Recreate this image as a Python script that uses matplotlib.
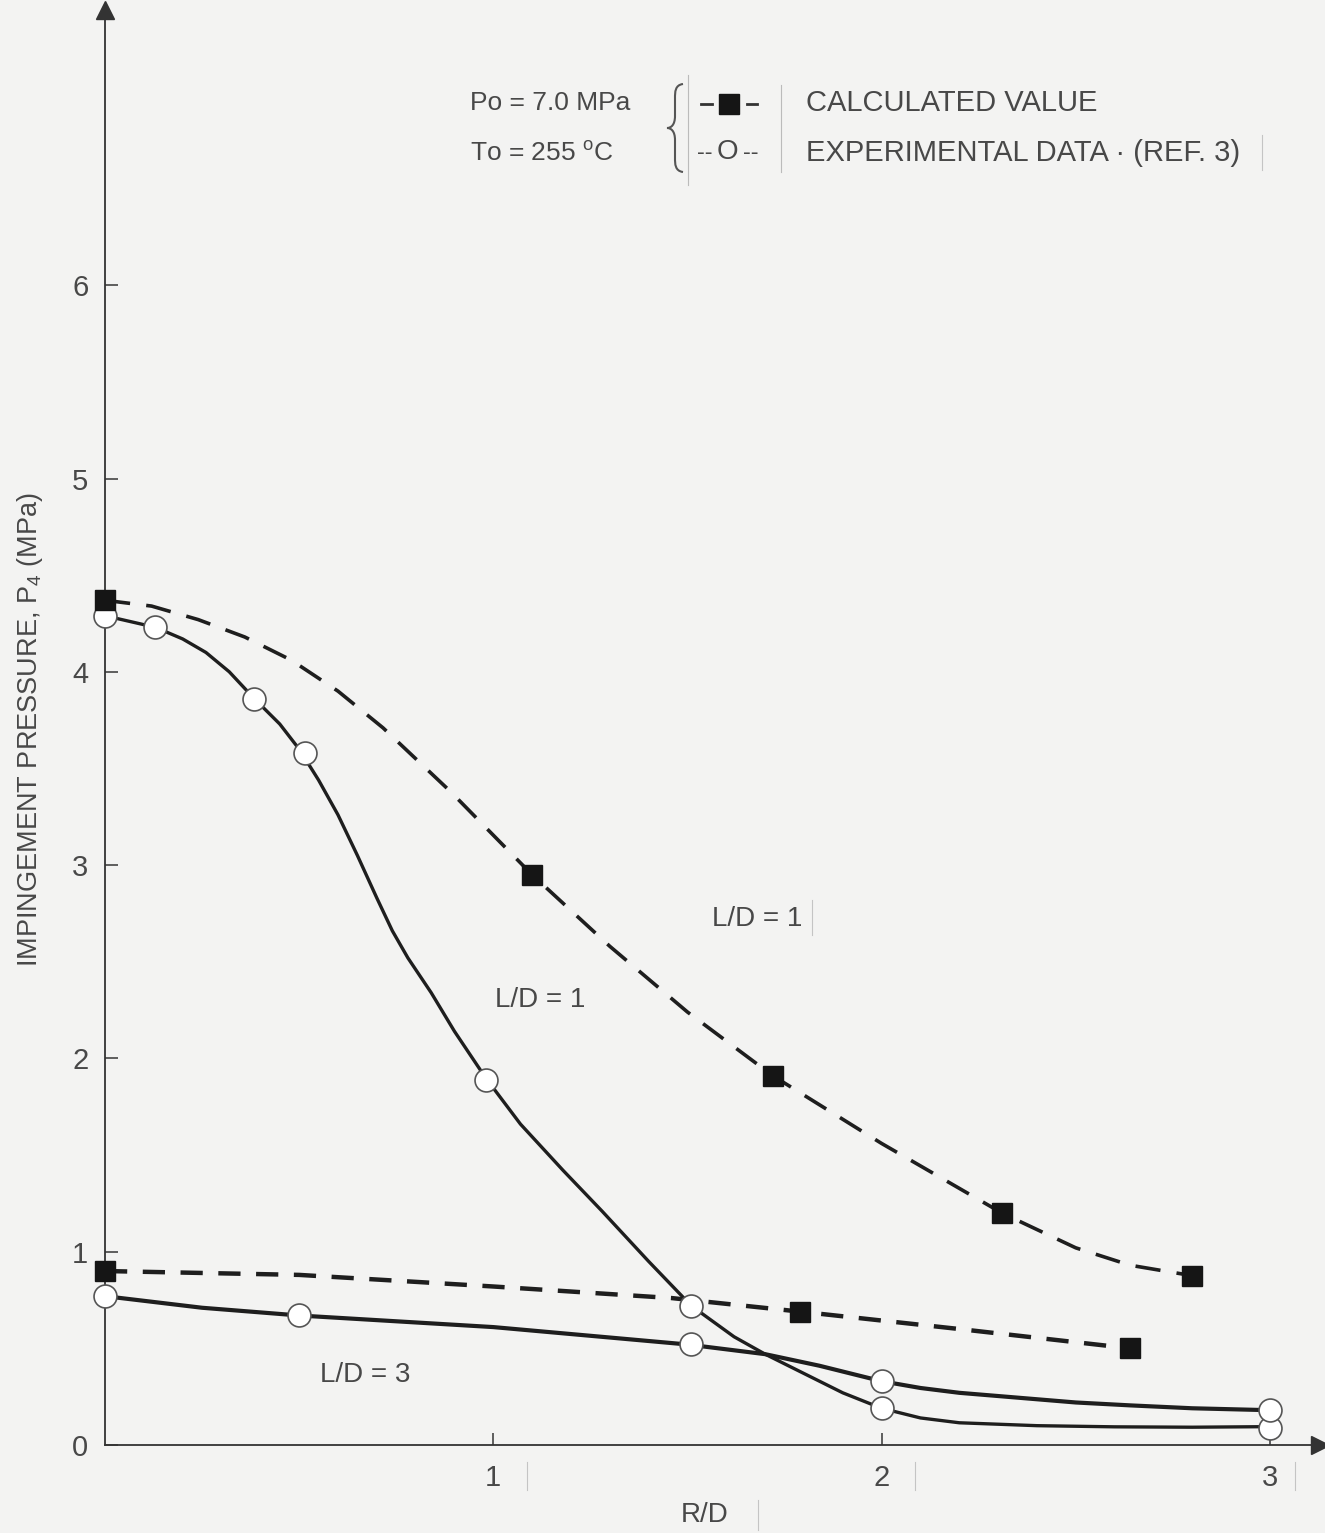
import numpy as np
import matplotlib.pyplot as plt
from matplotlib.lines import Line2D
from matplotlib.path import Path
from matplotlib.patches import PathPatch

plt.rcParams['font.family'] = ['Liberation Sans', 'DejaVu Sans']
plt.rcParams['mathtext.fontset'] = 'custom'
plt.rcParams['mathtext.rm'] = 'Liberation Sans'

W, H = 1325, 1533
INK = '#1e1e1e'
TXT = '#484848'
PAPER = '#f3f3f2'

# markers
exp1_x = [0.0, 0.13, 0.385, 0.515, 0.98, 1.51, 2.0, 3.0]
exp1_y = [4.29, 4.23, 3.86, 3.58, 1.89, 0.72, 0.19, 0.09]
exp3_x = [0.0, 0.5, 1.51, 2.0, 3.0]
exp3_y = [0.77, 0.67, 0.52, 0.33, 0.18]
calc1_x = [0.0, 1.1, 1.72, 2.31, 2.8]
calc1_y = [4.37, 2.95, 1.91, 1.20, 0.876]
calc3_x = [0.0, 1.79, 2.64]
calc3_y = [0.90, 0.69, 0.50]

# traced curves
exp1_cx = [0.0, 0.13, 0.20, 0.26, 0.32, 0.385, 0.45, 0.50, 0.55, 0.60, 0.65, 0.70,
           0.74, 0.78, 0.84, 0.90, 0.98, 1.07, 1.18, 1.28, 1.40, 1.51, 1.62, 1.70,
           1.80, 1.90, 2.0, 2.10, 2.20, 2.40, 2.60, 2.80, 3.0]
exp1_cy = [4.29, 4.23, 4.17, 4.10, 4.00, 3.86, 3.73, 3.60, 3.44, 3.26, 3.05, 2.83,
           2.66, 2.52, 2.34, 2.14, 1.90, 1.66, 1.42, 1.21, 0.95, 0.72, 0.56, 0.47,
           0.37, 0.27, 0.19, 0.14, 0.115, 0.10, 0.094, 0.092, 0.095]
exp3_cx = [0.0, 0.25, 0.5, 1.0, 1.5, 1.7, 1.84, 2.0, 2.1, 2.2, 2.32, 2.5, 2.64, 2.8, 3.0]
exp3_cy = [0.77, 0.71, 0.67, 0.61, 0.52, 0.47, 0.41, 0.33, 0.295, 0.27, 0.25, 0.22,
           0.205, 0.19, 0.18]
calc1_cx = [0.0, 0.12, 0.24, 0.36, 0.48, 0.60, 0.716, 0.89, 1.1, 1.3, 1.5, 1.72,
            2.0, 2.31, 2.5, 2.64, 2.8]
calc1_cy = [4.37, 4.34, 4.27, 4.18, 4.06, 3.90, 3.71, 3.38, 2.95, 2.58, 2.24, 1.91,
            1.56, 1.20, 1.02, 0.93, 0.876]
calc3_cx = [0.0, 0.5, 1.0, 1.46, 1.79, 2.2, 2.64]
calc3_cy = [0.90, 0.88, 0.82, 0.76, 0.69, 0.60, 0.50]

y_ticks = [0, 1, 2, 3, 4, 5, 6]
x_ticks = [1, 2, 3]


def fx(px):
    return px / W


def fy(py):
    return 1 - py / H


fig = plt.figure(figsize=(13.25, 15.33), dpi=100, facecolor=PAPER)
ax = fig.add_axes([fx(105), fy(1445), fx(1320) - fx(105), fy(10) - fy(1445)])
ax.set_facecolor(PAPER)
ax.set_xlim(0, (1320 - 105) / 388.3)
ax.set_ylim(0, (1445 - 10) / 193.3)

for s in ['top', 'right']:
    ax.spines[s].set_visible(False)
for s in ['left', 'bottom']:
    ax.spines[s].set_color('#333333')
    ax.spines[s].set_linewidth(1.3)
ax.plot(0, 1, marker='^', ms=13, color='#333333', transform=ax.transAxes, clip_on=False)
ax.plot(1, 0, marker='>', ms=13, color='#333333', transform=ax.transAxes, clip_on=False)

ax.set_yticks(y_ticks)
ax.set_xticks(x_ticks)
ax.tick_params(direction='in', length=9, width=1.2, color='#444444',
               labelcolor=TXT, labelsize=21)
ax.tick_params(axis='y', pad=12)
ax.tick_params(axis='x', pad=14)

# curves
ax.plot(calc1_cx, calc1_cy, color=INK, lw=2.6, dashes=(7, 4.5), zorder=2)
ax.plot(calc3_cx, calc3_cy, color=INK, lw=3.2, dashes=(5, 3.5), zorder=2)
ax.plot(exp1_cx, exp1_cy, color=INK, lw=2.4, zorder=2, solid_joinstyle='round')
ax.plot(exp3_cx, exp3_cy, color=INK, lw=3.0, zorder=2, solid_joinstyle='round')

# markers
ax.plot(exp1_x, exp1_y, 'o', ms=16.5, mfc='white', mec='#555555', mew=1.2, zorder=3, clip_on=False)
ax.plot(exp3_x, exp3_y, 'o', ms=16.5, mfc='white', mec='#555555', mew=1.2, zorder=3, clip_on=False)
ax.plot(calc1_x, calc1_y, 's', ms=15, color='#151515', zorder=4, clip_on=False)
ax.plot(calc3_x, calc3_y, 's', ms=15, color='#151515', zorder=4, clip_on=False)

# curve labels
ax.text(1.68, 2.72, 'L/D = 1', fontsize=20, color=TXT, ha='center', va='center')
ax.text(1.12, 2.30, 'L/D = 1', fontsize=20, color=TXT, ha='center', va='center')
ax.text(0.67, 0.36, 'L/D = 3', fontsize=20, color=TXT, ha='center', va='center')

# axis titles
fig.text(fx(30), fy(730), 'IMPINGEMENT PRESSURE, P$_{4}$ (MPa)', rotation=90,
         fontsize=19.5, color=TXT, ha='center', va='center')
fig.text(fx(705), fy(1515), 'R/D', fontsize=20, color=TXT, ha='center', va='center')

# faint scan marks beside some labels
for (x0, y0, y1) in [(527, 1462, 1490), (915, 1462, 1490), (1295, 1462, 1490),
                     (758, 1500, 1530), (812, 900, 935), (1262, 135, 170)]:
    fig.add_artist(Line2D([fx(x0), fx(x0)], [fy(y0), fy(y1)], color='#c4c4c4', lw=0.8))

# legend block
fig.text(fx(470), fy(103), 'Po = 7.0 MPa', fontsize=19, color=TXT, va='center')
fig.text(fx(470), fy(153), 'To = 255 $^{\\mathrm{o}}$C', fontsize=19, color=TXT, va='center')

# brace
bx, by = 677, 128
verts = [(bx + 6, by - 44),
         (bx - 2, by - 43), (bx - 2, by - 36), (bx - 2, by - 30),
         (bx - 2, by - 12),
         (bx - 2, by - 3), (bx - 6, by), (bx - 10, by),
         (bx - 6, by), (bx - 2, by + 3), (bx - 2, by + 12),
         (bx - 2, by + 30),
         (bx - 2, by + 36), (bx - 2, by + 43), (bx + 6, by + 44)]
codes = [Path.MOVETO,
         Path.CURVE4, Path.CURVE4, Path.CURVE4,
         Path.LINETO,
         Path.CURVE4, Path.CURVE4, Path.CURVE4,
         Path.CURVE4, Path.CURVE4, Path.CURVE4,
         Path.LINETO,
         Path.CURVE4, Path.CURVE4, Path.CURVE4]
verts = [(fx(v[0]), fy(v[1])) for v in verts]
fig.add_artist(PathPatch(Path(verts, codes), fill=False, ec='#555555', lw=1.5,
                         transform=fig.transFigure))

fig.add_artist(Line2D([fx(688), fx(688)], [fy(75), fy(185)], color='#bbbbbb', lw=0.8))
fig.add_artist(Line2D([fx(781), fx(781)], [fy(85), fy(172)], color='#bbbbbb', lw=0.8))
fig.add_artist(Line2D([fx(701), fx(712)], [fy(104), fy(104)], color='#333333', lw=2))
fig.add_artist(Line2D([fx(747), fx(757)], [fy(104), fy(104)], color='#333333', lw=2))
fig.add_artist(Line2D([fx(729)], [fy(104)], marker='s', ms=14, color='#151515'))
fig.text(fx(705), fy(153), '--', fontsize=17, color=TXT, va='center', ha='center')
fig.text(fx(727), fy(152), 'O', fontsize=20, color=TXT, va='center', ha='center')
fig.text(fx(751), fy(153), '--', fontsize=17, color=TXT, va='center', ha='center')
fig.text(fx(806), fy(103), 'CALCULATED VALUE', fontsize=21, color=TXT, va='center')
fig.text(fx(806), fy(153), 'EXPERIMENTAL DATA \u00b7 (REF. 3)', fontsize=21, color=TXT, va='center')

fig.savefig('out.png', dpi=100, facecolor=PAPER)
